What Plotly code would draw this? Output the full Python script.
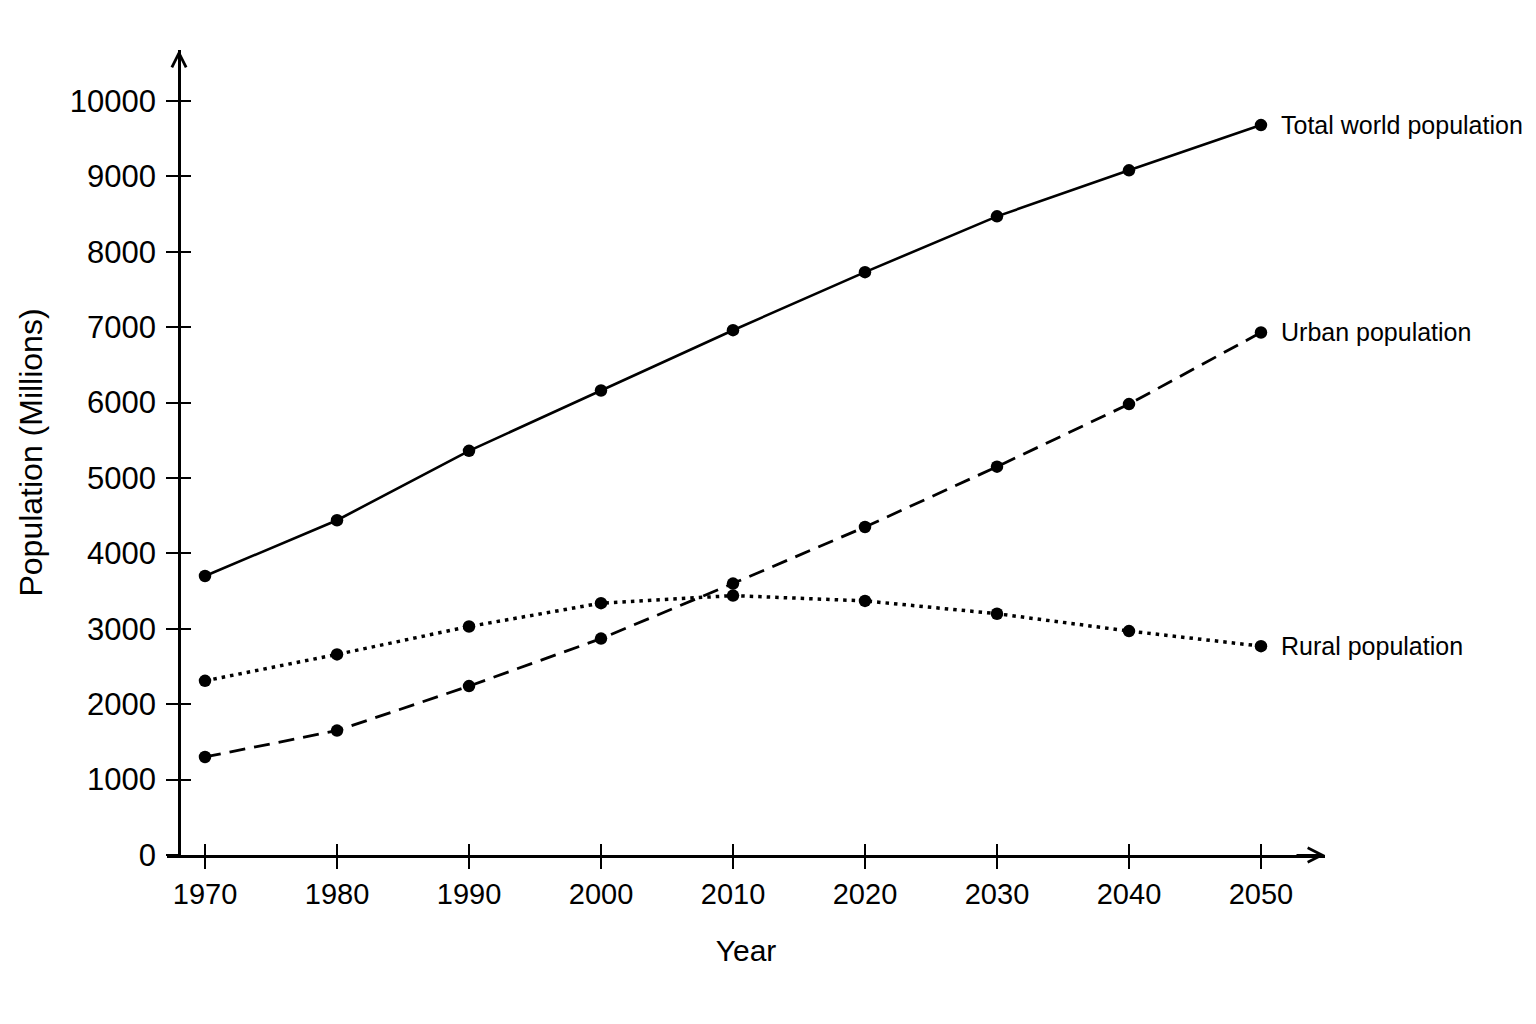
import plotly.graph_objects as go

years = [1970, 1980, 1990, 2000, 2010, 2020, 2030, 2040, 2050]
total_pop = [3700, 4440, 5360, 6160, 6960, 7730, 8470, 9080, 9680]
urban_pop = [1300, 1650, 2240, 2870, 3600, 4350, 5150, 5980, 6930]
rural_pop = [2310, 2660, 3030, 3340, 3440, 3370, 3200, 2970, 2770]

series_names = ['Total world population', 'Urban population', 'Rural population']
series_dash = ['solid', '16px,9px', '3.5px,5px']
series_width = [2.6, 2.8, 3.5]

y_ticks = list(range(0, 10001, 1000))
y_ticktext = [str(v) for v in y_ticks]

FONT = 'Arial, Liberation Sans, sans-serif'
x_range = [1967.12, 2054.85]
y_range = [0, 10676]
y_pos = 0.01036

fig = go.Figure()

for name, vals, dash, lw in zip(series_names, [total_pop, urban_pop, rural_pop],
                                series_dash, series_width):
    fig.add_trace(go.Scatter(
        x=years, y=vals, name=name, mode='lines+markers',
        line=dict(color='black', width=lw, dash=dash),
        marker=dict(color='black', size=12.5),
        showlegend=False,
    ))
    # series label to the right of the last point
    fig.add_annotation(x=years[-1], y=vals[-1], text=name, showarrow=False,
                       xanchor='left', yanchor='middle', xshift=18,
                       font=dict(family=FONT, size=25, color='black'))

# empty trace so the overlay axes (inner half of the ticks) get drawn
fig.add_trace(go.Scatter(x=[], y=[], xaxis='x2', yaxis='y2',
                         showlegend=False, hoverinfo='skip'))

fig.update_layout(
    width=1536, height=1024,
    margin=dict(l=159, r=219, t=42, b=177, autoexpand=False),
    paper_bgcolor='white', plot_bgcolor='white',
    font=dict(family=FONT, color='black'),
    xaxis=dict(range=x_range, tickvals=years, showgrid=False, zeroline=False,
               showline=True, linecolor='black', linewidth=2.5,
               ticks='outside', ticklen=11, tickwidth=2, tickcolor='black',
               tickfont=dict(size=29), anchor='y', automargin=False,
               title=dict(text='Year', font=dict(size=30), standoff=32)),
    yaxis=dict(range=y_range, tickvals=y_ticks, ticktext=y_ticktext,
               showgrid=False, zeroline=False,
               showline=True, linecolor='black', linewidth=2.5,
               ticks='outside', ticklen=12, tickwidth=2, tickcolor='black',
               tickfont=dict(size=31), anchor='free', position=y_pos,
               automargin=False, ticklabelstandoff=4,
               title=dict(text='Population (Millions)', font=dict(size=32), standoff=16)),
    xaxis2=dict(range=x_range, tickvals=years, overlaying='x', anchor='y2',
                showgrid=False, zeroline=False, showline=False,
                ticks='inside', ticklen=11, tickwidth=2, tickcolor='black',
                showticklabels=False),
    yaxis2=dict(range=y_range, tickvals=y_ticks, overlaying='y', anchor='free',
                position=y_pos, showgrid=False, zeroline=False, showline=False,
                ticks='inside', ticklen=11, tickwidth=2, tickcolor='black',
                showticklabels=False),
)

# open arrow heads at the ends of both axes
fig.add_annotation(xref='paper', yref='paper', x=1, y=0, ax=-30, ay=0,
                   text='', showarrow=True, arrowhead=5, arrowsize=1.4,
                   arrowwidth=2, arrowcolor='black')
fig.add_annotation(xref='paper', yref='paper', x=y_pos, y=1, ax=0, ay=30,
                   text='', showarrow=True, arrowhead=5, arrowsize=1.4,
                   arrowwidth=2, arrowcolor='black')

fig.write_html('out.html')
